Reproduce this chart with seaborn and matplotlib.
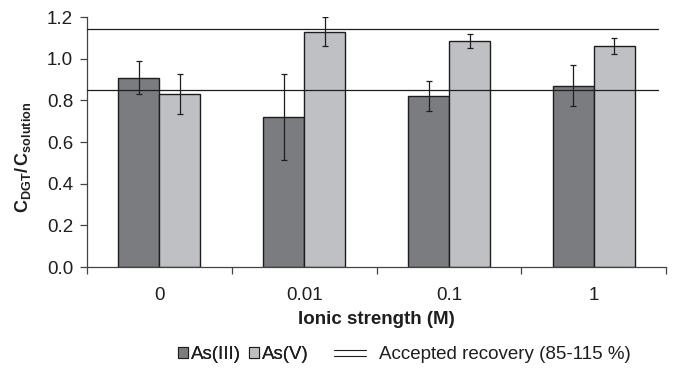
import numpy as np
import pandas as pd
import seaborn as sns
import matplotlib
matplotlib.use("Agg")
import matplotlib.pyplot as plt
from matplotlib.lines import Line2D
from matplotlib.patches import Patch
from matplotlib.legend_handler import HandlerBase

# Recovery ratios (C_DGT / C_solution) per ionic strength
ionic_strength = ["0", "0.01", "0.1", "1"]
species = ["As(III)", "As(V)"]
as3_mean = [0.91, 0.72, 0.82, 0.87]
as3_err = [0.077, 0.205, 0.072, 0.098]
as5_mean = [0.83, 1.13, 1.085, 1.06]
as5_err = [0.096, 0.07, 0.035, 0.038]
recovery_limits = [0.85, 1.145]

bar_colors = ["#7b7c80", "#bfc0c4"]
ink = "#1e1e1e"
fs = 13.5

sns.set_theme(style="white")
plt.rcParams["font.family"] = ["Liberation Sans", "DejaVu Sans"]
plt.rcParams["mathtext.fontset"] = "custom"
plt.rcParams["mathtext.rm"] = "Liberation Sans"
plt.rcParams["mathtext.bf"] = "Liberation Sans:bold"
plt.rcParams["mathtext.it"] = "Liberation Sans:italic"

df = pd.DataFrame({
    "strength": ionic_strength * 2,
    "species": [species[0]] * 4 + [species[1]] * 4,
    "ratio": as3_mean + as5_mean,
    "err": as3_err + as5_err,
})

fig = plt.figure(figsize=(6.75, 3.8), dpi=100)
ax = fig.add_axes([0.129, 0.297, 0.858, 0.658])

sns.barplot(data=df, x="strength", y="ratio", hue="species",
            order=ionic_strength, hue_order=species, palette=bar_colors,
            width=0.566, gap=0, errorbar=None, edgecolor=ink, linewidth=1.0,
            saturation=1, legend=False, ax=ax)

# Error bars at the centre of each bar
for cont, errs in zip(ax.containers, [as3_err, as5_err]):
    for patch, e in zip(cont.patches, errs):
        xc = patch.get_x() + patch.get_width() / 2
        ax.errorbar(xc, patch.get_height(), yerr=e, fmt="none",
                    ecolor=ink, elinewidth=0.9, capsize=2.2, capthick=0.9,
                    zorder=5)

# Accepted recovery band limits
for lim in recovery_limits:
    ax.axhline(lim, xmin=0, xmax=0.986, color=ink, lw=0.9, zorder=4)

ax.set_xlim(-0.5, 3.5)
ax.set_ylim(0, 1.2)
ax.set_yticks(np.arange(0, 1.21, 0.2))
ax.set_yticklabels([f"{v:.1f}" for v in np.arange(0, 1.21, 0.2)])
ax.set_xticks(range(4))
ax.set_xticklabels(ionic_strength)
ax.set_xticks(np.arange(-0.5, 3.6, 1.0), minor=True)
ax.tick_params(axis="x", which="major", length=0, pad=14, labelsize=fs,
               labelcolor=ink)
ax.tick_params(axis="x", which="minor", length=5, width=0.9, color="#444444",
               bottom=True)
ax.tick_params(axis="y", which="major", length=5, width=0.9, color="#444444",
               left=True, pad=5, labelsize=fs, labelcolor=ink)

for side in ["top", "right"]:
    ax.spines[side].set_visible(False)
for side in ["left", "bottom"]:
    ax.spines[side].set_color("#444444")
    ax.spines[side].set_linewidth(0.9)

ax.set_xlabel("Ionic strength (M)", fontsize=13.5, fontweight="bold",
              color=ink, labelpad=5)
ax.set_ylabel(r"$\mathbf{C_{DGT}/\,C_{solution}}$", fontsize=13, color=ink)
ax.yaxis.set_label_coords(-0.093, 0.44)


class DoubleLineHandler(HandlerBase):
    def create_artists(self, legend, orig_handle, xdescent, ydescent,
                       width, height, fontsize, trans):
        yc = height / 2 - ydescent
        arts = []
        for dy in (-2.0, 2.0):
            ln = Line2D([-xdescent, width - xdescent], [yc + dy, yc + dy],
                        color=ink, lw=0.8, transform=trans)
            arts.append(ln)
        return arts


sq_handles = [Patch(facecolor=c, edgecolor=ink, linewidth=0.8)
              for c in bar_colors]
leg1 = fig.legend(sq_handles, species, loc="center left",
                  bbox_to_anchor=(178 / 675, 0.066), ncol=2, frameon=False,
                  handlelength=0.55, handleheight=0.55, handletextpad=0.15,
                  columnspacing=0.4, borderpad=0, borderaxespad=0,
                  fontsize=fs, labelcolor=ink)
line_handle = object()
fig.legend([line_handle], ["Accepted recovery (85-115 %)"], loc="center left",
           bbox_to_anchor=(334 / 675, 0.066), frameon=False,
           handlelength=1.7, handletextpad=0.7, borderpad=0, borderaxespad=0,
           fontsize=fs, labelcolor=ink,
           handler_map={line_handle: DoubleLineHandler()})
fig.add_artist(leg1)

fig.savefig("out.png", dpi=100)
